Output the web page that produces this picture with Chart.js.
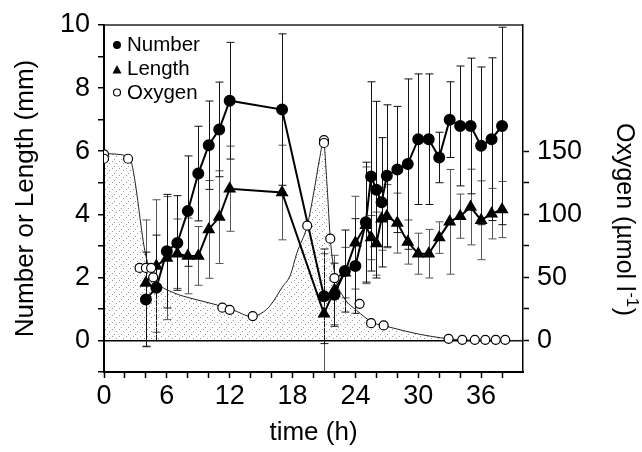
<!DOCTYPE html>
<html>
<head>
<meta charset="utf-8">
<script src="https://cdn.jsdelivr.net/npm/chart.js@4.4.1/dist/chart.umd.min.js"></script>
<style>
  html, body { margin: 0; padding: 0; background: #fff; }
  #c { display: block; }
</style>
</head>
<body>
<canvas id="c" width="642" height="452"></canvas>
<script>
// sampling times (h) for worm counts / lengths
const times = [4, 5, 6, 7, 8, 9, 10, 11, 12, 17, 21, 22, 23, 24, 25, 25.5, 26, 26.5, 27, 28, 29, 30, 31, 32, 33, 34, 35, 36, 37, 38];
const numVals = [1.3, 1.67, 2.83, 3.09, 4.1, 5.29, 6.19, 6.69, 7.6, 7.32, 1.4, 1.45, 2.2, 2.36, 3.75, 5.2, 4.78, 4.38, 5.22, 5.42, 5.59, 6.38, 6.38, 5.8, 7.0, 6.8, 6.8, 6.17, 6.38, 6.8];
const numErr = [1.5, 1.67, 1.8, 1.5, 1.75, 1.5, 1.4, 1.5, 1.85, 2.4, 1.5, 1.0, 1.3, 1.5, 1.9, 3.0, 2.8, 2.05, 2.25, 2.0, 2.7, 2.07, 2.07, 0.8, 1.2, 1.9, 2.15, 2.5, 2.58, 3.13];
const lenVals = [1.82, 2.36, 2.61, 2.75, 2.68, 2.68, 3.52, 3.91, 4.81, 4.69, 0.85, 1.6, 2.15, 3.1, 3.65, 3.26, 3.07, 3.86, 3.94, 3.72, 3.12, 2.75, 2.75, 3.26, 3.76, 3.94, 4.23, 3.81, 4.02, 4.15];
const lenErr = [2.0, 2.1, 1.95, 1.1, 1.2, 0.93, 1.55, 1.47, 1.35, 1.5, 1.9, 1.1, 0.8, 1.47, 1.85, 0.7, 1.0, 1.0, 1.0, 0.95, 0.7, 0.65, 0.77, 0.5, 1.66, 0.7, 1.2, 1.25, 0.8, 0.89];

// oxygen measurements (umol/l)
const o2Times = [0, 0, 2.3, 3.4, 4.0, 4.5, 4.7, 11.3, 12.0, 14.2, 19.4, 21.0, 21.0, 21.6, 22.0, 24.4, 25.5, 26.7, 32.9, 34.2, 35.4, 36.4, 37.4, 38.3];
const o2Vals = [147.5, 144, 144, 57.5, 57.5, 57.5, 50, 26, 24.3, 19.3, 91, 158.7, 156.5, 80.7, 49.4, 29, 13.7, 11.9, 1.3, 0.5, 0.5, 0.5, 0.5, 0.5];

// fitted oxygen curve as drawn
const curveT = [0, 2.3, 2.65, 3.0, 3.3, 3.6, 3.9, 4.4, 5.2, 6.6, 8.5, 10.4, 12.35, 14.1, 15.2, 15.9, 17.0, 17.8, 18.4, 19.4, 20.0, 20.6, 20.95, 21.3, 21.6, 22.1, 22.9, 24.1, 25.6, 27.3, 29.9, 32.9, 35, 40];
const curveO2 = [148, 146, 140, 124, 106, 87, 71, 56, 45, 38, 33, 29, 24, 19, 22.5, 28, 42, 52, 69, 91, 116, 145, 158, 122, 81, 50, 34, 24, 14.5, 10.5, 5.3, 1.3, 0.2, 0];

const xTicks = [0, 2, 4, 6, 8, 10, 12, 14, 16, 18, 20, 22, 24, 26, 28, 30, 32, 34, 36, 38];
const yTicks = [-1, 0, 1, 2, 3, 4, 5, 6, 7, 8, 9, 10];
const y2Ticks = [0, 25, 50, 75, 100, 125, 150];

const FONT = "'Liberation Sans', Arial, Helvetica, sans-serif";
const pts = (xs, ys) => xs.map((x, i) => ({ x, y: ys[i] }));

// stipple fill under the oxygen curve
const pc = document.createElement("canvas");
pc.width = 7; pc.height = 7;
const pctx = pc.getContext("2d");
pctx.fillStyle = "#9a9a9a";
[[0, 0], [4, 2], [2, 5]].forEach(([a, b]) => pctx.fillRect(a, b, 1, 1));
const stipple = document.getElementById("c").getContext("2d").createPattern(pc, "repeat");

const errorBars = {
  id: "errorBars",
  beforeDatasetsDraw(chart) {
    const { ctx, chartArea: a, scales: { x, y } } = chart;
    ctx.save();
    ctx.beginPath();
    ctx.rect(a.left, a.top, a.right - a.left, a.bottom - a.top);
    ctx.clip();
    [[lenVals, lenErr, "#555"], [numVals, numErr, "#111"]].forEach(([vals, errs, col]) => {
      ctx.strokeStyle = col;
      ctx.lineWidth = 1;
      times.forEach((t, i) => {
        const px = Math.round(x.getPixelForValue(t)) + 0.5;
        const top = y.getPixelForValue(vals[i] + errs[i]);
        const bot = y.getPixelForValue(vals[i] - errs[i]);
        ctx.beginPath();
        ctx.moveTo(px, top); ctx.lineTo(px, bot);
        ctx.moveTo(px - 4, top); ctx.lineTo(px + 4, top);
        ctx.moveTo(px - 4, bot); ctx.lineTo(px + 4, bot);
        ctx.stroke();
      });
    });
    ctx.restore();
  },
};

const decor = {
  id: "decor",
  afterDraw(chart) {
    const { ctx, chartArea: a } = chart;
    ctx.save();
    // top frame line
    ctx.strokeStyle = "#222";
    ctx.lineWidth = 1.5;
    ctx.beginPath();
    ctx.moveTo(a.left, a.top); ctx.lineTo(a.right, a.top);
    ctx.stroke();

    // legend
    const ds = chart.data.datasets;
    const rows = [[ds[1], 45, 51], [ds[2], 70, 75], [ds[0], 92.5, 98.5]];
    ctx.fillStyle = "#000";
    ctx.strokeStyle = "#000";
    ctx.font = "20.5px " + FONT;
    ctx.textBaseline = "alphabetic";
    rows.forEach(([d, my, ty]) => {
      const mx = 117;
      ctx.beginPath();
      if (d.pointStyle === "triangle") {
        ctx.moveTo(mx, my - 5); ctx.lineTo(mx + 4.5, my + 3.5); ctx.lineTo(mx - 4.5, my + 3.5); ctx.closePath();
        ctx.fill();
      } else if (d.pointBackgroundColor === "#fff") {
        ctx.lineWidth = 1.2;
        ctx.arc(mx, my, 3.5, 0, Math.PI * 2);
        ctx.stroke();
      } else {
        ctx.arc(mx, my, 4, 0, Math.PI * 2);
        ctx.fill();
      }
      ctx.fillText(d.label, 127, ty);
    });

    // right axis title, reading downwards
    ctx.translate(624, 123);
    ctx.rotate(Math.PI / 2);
    ctx.textBaseline = "middle";
    ctx.textAlign = "left";
    ctx.font = "25px " + FONT;
    const main = "Oxygen (µmol l";
    ctx.fillText(main, 0, 0);
    let w = ctx.measureText(main).width;
    ctx.font = "16px " + FONT;
    ctx.fillText("-1", w + 1, -7);
    w += ctx.measureText("-1").width + 2;
    ctx.font = "25px " + FONT;
    ctx.fillText(")", w, 0);
    ctx.restore();
  },
};

new Chart(document.getElementById("c"), {
  type: "line",
  data: {
    datasets: [
      {
        label: "Oxygen", data: pts(o2Times, o2Vals), yAxisID: "y2", showLine: false,
        pointStyle: "circle", pointRadius: 4.5, pointBackgroundColor: "#fff",
        pointBorderColor: "#000", pointBorderWidth: 1.2, order: 0,
      },
      {
        label: "Number", data: pts(times, numVals), yAxisID: "y", borderColor: "#000", borderWidth: 2,
        pointStyle: "circle", pointRadius: 5, pointBackgroundColor: "#000", pointBorderColor: "#000", order: 1,
      },
      {
        label: "Length", data: pts(times, lenVals), yAxisID: "y", borderColor: "#000", borderWidth: 2,
        pointStyle: "triangle", pointRadius: 5.5, pointBackgroundColor: "#000", pointBorderColor: "#000", order: 2,
      },
      {
        label: "curve", data: pts(curveT, curveO2), yAxisID: "y2", borderColor: "#222", borderWidth: 1,
        pointRadius: 0, cubicInterpolationMode: "monotone", fill: "origin", backgroundColor: stipple, order: 3,
      },
    ],
  },
  options: {
    responsive: false,
    animation: false,
    layout: { padding: { top: 25, left: 0, right: 0, bottom: 0 } },
    plugins: { legend: { display: false }, tooltip: { enabled: false } },
    scales: {
      x: {
        type: "linear", min: 0, max: 40,
        afterBuildTicks: (s) => { s.ticks = xTicks.map((v) => ({ value: v })); },
        afterFit: (s) => { s.height = 80; },
        ticks: {
          autoSkip: false, maxRotation: 0, padding: 2, color: "#000",
          font: { family: FONT, size: 27 },
          callback: (v) => (v % 6 === 0 ? v : ""),
        },
        grid: { drawOnChartArea: false, tickLength: 6, tickColor: "#000", tickWidth: 1.5 },
        border: { display: true, color: "#000", width: 2 },
        title: { display: true, text: "time (h)", color: "#000", font: { family: FONT, size: 26 }, padding: { top: 4, bottom: 4 } },
      },
      y: {
        min: -1, max: 10, position: "left",
        afterBuildTicks: (s) => { s.ticks = yTicks.map((v) => ({ value: v })); },
        afterFit: (s) => { s.width = 104; },
        ticks: {
          autoSkip: false, padding: 8, color: "#000", font: { family: FONT, size: 27 },
          callback: (v) => (v >= 0 && v % 2 === 0 ? v : ""),
        },
        grid: {
          drawOnChartArea: true, tickLength: 6, tickColor: "#000", tickWidth: 1.5, lineWidth: 1.5,
          color: (c) => (c.tick && c.tick.value === 0 ? "#000" : "rgba(0,0,0,0)"),
        },
        border: { display: true, color: "#000", width: 2 },
        title: { display: true, text: "Number or Length (mm)", color: "#000", font: { family: FONT, size: 26 }, padding: { top: 10, bottom: 0 } },
      },
      y2: {
        min: -25, max: 250, position: "right",
        afterBuildTicks: (s) => { s.ticks = y2Ticks.map((v) => ({ value: v })); },
        afterFit: (s) => { s.width = 119; },
        ticks: {
          autoSkip: false, padding: 8, color: "#000", font: { family: FONT, size: 27 },
          callback: (v) => (v % 50 === 0 ? v : ""),
        },
        grid: { drawOnChartArea: false, tickLength: 6, tickColor: "#000", tickWidth: 1.5 },
        border: { display: true, color: "#000", width: 1.5 },
      },
    },
  },
  plugins: [errorBars, decor],
});
</script>
</body>
</html>
